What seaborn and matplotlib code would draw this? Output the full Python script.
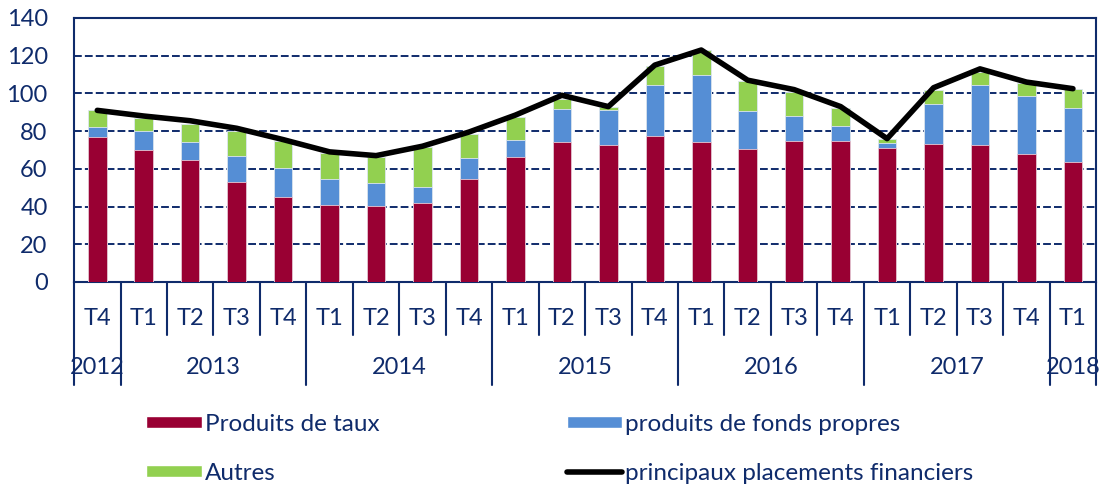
import numpy as np
import pandas as pd
import seaborn as sns
import matplotlib.pyplot as plt
from matplotlib.patches import Patch
from matplotlib.lines import Line2D
import matplotlib.transforms as mtransforms

# quarters from 2012 T4 to 2018 T1
quarters = ["T4", "T1", "T2", "T3", "T4", "T1", "T2", "T3", "T4", "T1", "T2",
            "T3", "T4", "T1", "T2", "T3", "T4", "T1", "T2", "T3", "T4", "T1"]
years = ["2012", "2013", "2014", "2015", "2016", "2017", "2018"]
year_sizes = [1, 4, 4, 4, 4, 4, 1]

taux = [77, 70, 64.5, 53, 45, 41, 40.5, 42, 54.5, 66.5, 74, 72.5, 77.5, 74,
        70.5, 75, 74.5, 71, 73, 72.5, 68, 63.5]
fonds_propres = [5, 10, 9.5, 14, 15.5, 13.5, 12, 8.5, 11, 9, 17.5, 18.5, 27, 36,
                 20, 13, 8, 2.5, 21.5, 32, 30.5, 28.5]
autres = [9, 7, 10, 13, 14, 14, 14, 21, 13, 12, 5.5, 2, 10, 13, 16, 13, 9.5,
          2.5, 7.5, 7, 7, 10.5]
placements = [91, 88, 85.5, 81.5, 75.5, 69, 67, 72, 79.5, 88.5, 99, 93, 115,
              123, 107, 102, 93, 76, 103, 113, 106, 102.5]

navy = "#0F2B6B"
c_taux = "#990033"
c_fp = "#558ED5"
c_autres = "#92D050"

df = pd.DataFrame({"pos": [f"{i}" for i in range(len(quarters))],
                   "taux": taux, "fp": fonds_propres, "autres": autres,
                   "total": placements})
df["s2"] = df["taux"] + df["fp"]
df["s3"] = df["s2"] + df["autres"]
df["x"] = np.arange(len(df))

sns.set_style("white")
plt.rcParams["font.family"] = ["Lato", "DejaVu Sans"]
plt.rcParams["text.color"] = navy

fig = plt.figure(figsize=(11.02, 4.84), dpi=100)
ax = fig.add_axes([0.0672, 0.4174, 0.9275, 0.5455])

bw = 0.4
sns.barplot(data=df, x="pos", y="s3", color=c_autres, width=bw, saturation=1,
            edgecolor="#dde6f0", linewidth=0.6, ax=ax, zorder=2)
sns.barplot(data=df, x="pos", y="s2", color=c_fp, width=bw, saturation=1,
            edgecolor="#dde6f0", linewidth=0.6, ax=ax, zorder=3)
sns.barplot(data=df, x="pos", y="taux", color=c_taux, width=bw, saturation=1,
            edgecolor="#e8c8d4", linewidth=0.6, ax=ax, zorder=4)
sns.lineplot(data=df, x="x", y="total", color="black", linewidth=4,
             ax=ax, zorder=5)

ax.set_xlim(-0.5, len(df) - 0.5)
ax.set_ylim(0, 140)
ax.set_yticks(range(0, 141, 20))
ax.set_xlabel("")
ax.set_ylabel("")
ax.set_xticks([])
ax.tick_params(axis="y", direction="out", length=6, width=1.5, color=navy,
               labelsize=17, labelcolor=navy, pad=13)
for yv in range(20, 140, 20):
    ax.axhline(yv, color=navy, linestyle=(0, (4, 1.6)), linewidth=1.4, zorder=1)
for side in ["left", "bottom", "top", "right"]:
    ax.spines[side].set_color(navy)
    ax.spines[side].set_linewidth(1.5)

# two-level category axis
trans = mtransforms.blended_transform_factory(ax.transData, ax.transAxes)
bounds = np.cumsum([0] + year_sizes)
for i in range(len(df) + 1):
    yb = -0.39 if i in bounds else -0.2
    ax.plot([i - 0.5, i - 0.5], [0, yb], color=navy, linewidth=1.5,
            transform=trans, clip_on=False)
for i, q in enumerate(quarters):
    ax.text(i, -0.14, q, transform=trans, ha="center", va="center",
            fontsize=17, color=navy)
for k, yr in enumerate(years):
    mid = (bounds[k] + bounds[k + 1]) / 2 - 0.5
    ax.text(mid, -0.325, yr, transform=trans, ha="center", va="center",
            fontsize=17, color=navy)

handles = [Patch(facecolor=c_taux, label="Produits de taux"),
           Patch(facecolor=c_autres, label="Autres"),
           Patch(facecolor=c_fp, label="produits de fonds propres"),
           Line2D([0], [0], color="black", linewidth=4,
                  label="principaux placements financiers")]
fig.legend(handles=handles, ncol=2, loc="upper left",
           bbox_to_anchor=(0.113, 0.19), frameon=False, fontsize=17.5,
           handlelength=2.3, handleheight=0.4, handletextpad=0.1,
           columnspacing=7.7, labelspacing=1.15, labelcolor=navy,
           bbox_transform=fig.transFigure)

fig.savefig("out.png", dpi=100)
